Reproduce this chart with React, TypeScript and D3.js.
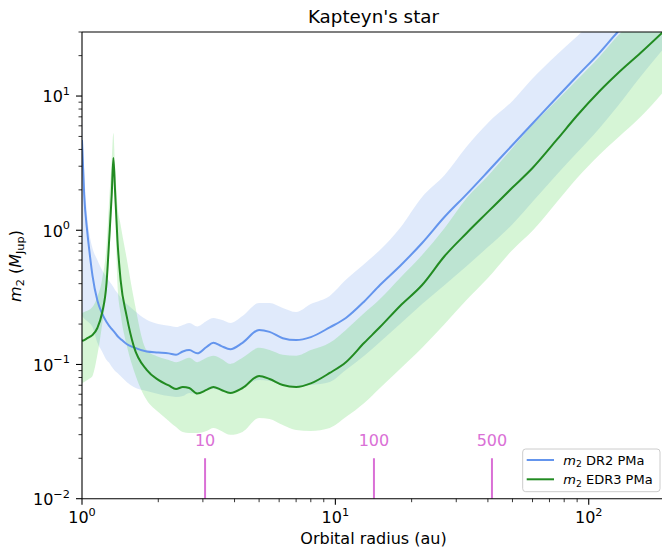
import React from 'react';
import * as d3 from 'd3';

// Orbital radius grid (au) shared by every series
const radius = [
  1.0, 1.02, 1.05, 1.08, 1.1, 1.15, 1.2, 1.25, 1.28, 1.31,
  1.33, 1.35, 1.38, 1.42, 1.5, 1.6, 1.8, 2.0, 2.2, 2.35,
  2.5, 2.65, 2.85, 3.1, 3.3, 3.55, 3.85, 4.3, 5.0, 5.5,
  6.2, 7.0, 8.0, 9.5, 11, 13, 15, 18, 22, 27,
  33, 40, 50, 60, 75, 90, 110, 130, 160, 200,
];

// m2 from the DR2 proper motion anomaly (M_Jup)
const dr2Mass = [
  4.7, 1.83, 0.96, 0.6, 0.46, 0.3, 0.24, 0.207, 0.194, 0.184,
  0.178, 0.172, 0.163, 0.155, 0.142, 0.134, 0.125, 0.123, 0.121, 0.118,
  0.125, 0.128, 0.121, 0.135, 0.145, 0.137, 0.13, 0.145, 0.181, 0.175,
  0.157, 0.152, 0.16, 0.189, 0.222, 0.295, 0.391, 0.542, 0.804, 1.26,
  1.86, 2.74, 4.32, 6.24, 9.8, 14.1, 20.9, 30, 45, 70,
];
const dr2Low = [
  0.23, 0.22, 0.21, 0.2, 0.19, 0.145, 0.125, 0.108, 0.103, 0.096,
  0.0925, 0.0895, 0.0865, 0.0821, 0.0741, 0.068, 0.0635, 0.0603, 0.0582, 0.0573,
  0.0582, 0.0614, 0.0603, 0.0646, 0.0657, 0.0635, 0.0624, 0.068, 0.0767, 0.0754,
  0.0703, 0.068, 0.0703, 0.0741, 0.091, 0.116, 0.147, 0.2, 0.282, 0.391,
  0.542, 0.75, 1.11, 1.63, 2.61, 3.79, 5.73, 8.39, 13.9, 23.2,
];
const dr2High = [
  7.2, 2.8, 1.24, 0.85, 0.735, 0.6, 0.506, 0.449, 0.419, 0.394,
  0.378, 0.359, 0.341, 0.316, 0.282, 0.255, 0.215, 0.2, 0.194, 0.19,
  0.197, 0.204, 0.192, 0.211, 0.222, 0.215, 0.204, 0.23, 0.287, 0.287,
  0.264, 0.246, 0.282, 0.324, 0.427, 0.561, 0.713, 1.04, 1.77, 2.58,
  4.21, 6.31, 9.2, 13.5, 20.4, 27.9, 40, 55, 80, 120,
];

// m2 from the EDR3 proper motion anomaly (M_Jup)
const edr3Mass = [
  0.15, 0.152, 0.157, 0.162, 0.166, 0.187, 0.242, 0.405, 0.847, 1.83,
  3.46, 2.0, 0.847, 0.427, 0.23, 0.137, 0.091, 0.0767, 0.0698, 0.0657,
  0.068, 0.0668, 0.0608, 0.0646, 0.068, 0.0646, 0.0614, 0.0668, 0.0821, 0.078,
  0.0703, 0.068, 0.0723, 0.0865, 0.104, 0.145, 0.19, 0.273, 0.391, 0.643,
  0.955, 1.37, 2.08, 2.91, 4.75, 7.16, 10.8, 14.7, 20.9, 31,
];
const edr3Low = [
  0.0728, 0.0741, 0.0767, 0.0793, 0.0821, 0.118, 0.197, 0.359, 0.655, 1.42,
  2.81, 1.54, 0.4, 0.24, 0.14, 0.091, 0.0544, 0.0443, 0.038, 0.0342,
  0.0314, 0.0309, 0.0309, 0.032, 0.0337, 0.032, 0.0299, 0.0314, 0.0399, 0.0393,
  0.0354, 0.0325, 0.032, 0.0337, 0.0406, 0.0517, 0.0668, 0.0925, 0.133, 0.2,
  0.303, 0.441, 0.713, 0.99, 1.63, 2.45, 3.64, 4.87, 6.98, 11.1,
];
const edr3High = [
  0.242, 0.246, 0.251, 0.259, 0.268, 0.318, 0.427, 0.777, 1.68, 3.34,
  5.31, 3.07, 1.54, 1.1, 0.622, 0.313, 0.128, 0.114, 0.108, 0.104,
  0.108, 0.112, 0.104, 0.112, 0.116, 0.11, 0.101, 0.112, 0.133, 0.128,
  0.118, 0.116, 0.128, 0.145, 0.181, 0.242, 0.308, 0.441, 0.655, 1.04,
  1.74, 2.54, 4.1, 6.1, 9.3, 13.2, 19.5, 28, 40, 60,
];

// orbital period markers (years) and their radius (au)
const periodLabels = ['10', '100', '500'];
const periodRadius = [3.06, 14.2, 41.5];
const periodMarkTop = 0.02;

const xDomain = [1, 200];
const yDomain = [0.01, 30];

const W = 662;
const H = 551;
const plot = { left: 82, right: 665, top: 32, bottom: 498.7 };

const FONT = 'DejaVu Sans, sans-serif';
const BLUE = '#6495ED';
const GREEN = '#228B22';
const LIGHTGREEN = '#32CD32';
const ORCHID = '#DA70D6';

const supText = (v: number) => {
  const e = Math.round(Math.log10(v));
  return e < 0 ? `\u2212${-e}` : `${e}`;
};

export default function App() {
  const x = d3.scaleLog().domain(xDomain).range([plot.left, plot.right]);
  const y = d3.scaleLog().domain(yDomain).range([plot.bottom, plot.top]);

  const idx = radius.map((_, i) => i);
  const linePath = (vals: number[]) =>
    d3
      .line<number>()
      .x((i) => x(radius[i]))
      .y((i) => y(vals[i]))
      .curve(d3.curveMonotoneX)(idx) || '';
  const bandPath = (lo: number[], hi: number[]) =>
    d3
      .area<number>()
      .x((i) => x(radius[i]))
      .y0((i) => y(lo[i]))
      .y1((i) => y(hi[i]))
      .curve(d3.curveMonotoneX)(idx) || '';

  const isMajor = (v: number) => Math.abs(Math.log10(v) - Math.round(Math.log10(v))) < 1e-9;
  const xTicks = x.ticks();
  const yTicks = y.ticks();

  return (
    <div style={{ position: 'absolute', left: 0, top: 0 }}>
      <svg width={W} height={H} style={{ display: 'block', background: '#fff' }} fontFamily={FONT}>
        <defs>
          <clipPath id="plot-clip">
            <rect x={plot.left} y={plot.top} width={plot.right - plot.left} height={plot.bottom - plot.top} />
          </clipPath>
        </defs>

        <g clipPath="url(#plot-clip)">
          <path d={bandPath(dr2Low, dr2High)} fill={BLUE} fillOpacity={0.2} />
          <path d={bandPath(edr3Low, edr3High)} fill={LIGHTGREEN} fillOpacity={0.2} />
          <path d={linePath(dr2Mass)} fill="none" stroke={BLUE} strokeWidth={2} />
          <path d={linePath(edr3Mass)} fill="none" stroke={GREEN} strokeWidth={2} />

          {periodRadius.map((r, i) => (
            <line
              key={`pm-${i}`}
              x1={x(r)}
              x2={x(r)}
              y1={y(periodMarkTop)}
              y2={y(yDomain[0])}
              stroke={ORCHID}
              strokeWidth={2}
            />
          ))}
        </g>

        {periodRadius.map((r, i) => (
          <text
            key={`pl-${i}`}
            x={x(r)}
            y={y(periodMarkTop) - 11.8}
            textAnchor="middle"
            fontSize={16}
            fill={ORCHID}
          >
            {periodLabels[i]}
          </text>
        ))}

        {/* spines */}
        <g stroke="#000" strokeWidth={1.1} fill="none">
          <line x1={plot.left} x2={plot.left} y1={plot.top} y2={plot.bottom} />
          <line x1={plot.left} x2={plot.right} y1={plot.bottom} y2={plot.bottom} />
          <line x1={plot.left} x2={plot.right} y1={plot.top} y2={plot.top} />
          <line x1={plot.right} x2={plot.right} y1={plot.top} y2={plot.bottom} />
        </g>

        {/* x ticks */}
        {xTicks.map((t, i) => (
          <line
            key={`xt-${i}`}
            x1={x(t)}
            x2={x(t)}
            y1={plot.bottom}
            y2={plot.bottom + (isMajor(t) ? 6 : 3.5)}
            stroke="#000"
            strokeWidth={isMajor(t) ? 1.1 : 0.8}
          />
        ))}
        {xTicks.filter(isMajor).map((t, i) => (
          <text key={`xl-${i}`} x={x(t)} y={plot.bottom + 24.6} textAnchor="middle" fontSize={16} fill="#000">
            10
            <tspan fontSize={11.3} dy={-7.3}>
              {supText(t)}
            </tspan>
          </text>
        ))}

        {/* y ticks */}
        {yTicks.map((t, i) => (
          <line
            key={`yt-${i}`}
            x1={plot.left}
            x2={plot.left - (isMajor(t) ? 6 : 3.5)}
            y1={y(t)}
            y2={y(t)}
            stroke="#000"
            strokeWidth={isMajor(t) ? 1.1 : 0.8}
          />
        ))}
        {yTicks.filter(isMajor).map((t, i) => (
          <text key={`yl-${i}`} x={plot.left - 12} y={y(t) + 6.3} textAnchor="end" fontSize={16} fill="#000">
            10
            <tspan fontSize={11.3} dy={-7.3}>
              {supText(t)}
            </tspan>
          </text>
        ))}

        {/* title and axis labels */}
        <text x={(plot.left + plot.right) / 2} y={23.3} textAnchor="middle" fontSize={18.3} fill="#000">
          Kapteyn's star
        </text>
        <text x={(plot.left + plot.right) / 2} y={543.5} textAnchor="middle" fontSize={16} fill="#000">
          Orbital radius (au)
        </text>
        <text transform="translate(20.5,266) rotate(-90)" textAnchor="middle" fontSize={16} fill="#000">
          <tspan fontStyle="italic">m</tspan>
          <tspan fontSize={11.3} dy={3.5}>2</tspan>
          <tspan dy={-3.5}> (</tspan>
          <tspan fontStyle="italic">M</tspan>
          <tspan fontSize={11.3} dy={3.5}>Jup</tspan>
          <tspan dy={-3.5}>)</tspan>
        </text>

        {/* legend */}
        <g>
          <rect x={522.7} y={449} width={137.3} height={42.7} rx={3} fill="#fff" fillOpacity={0.8} stroke="#cccccc" strokeWidth={1} />
          <line x1={526.7} x2={554} y1={460} y2={460} stroke={BLUE} strokeWidth={2} />
          <line x1={526.7} x2={554} y1={479.3} y2={479.3} stroke={GREEN} strokeWidth={2} />
          <text x={563.3} y={464.6} fontSize={13} fill="#000">
            <tspan fontStyle="italic">m</tspan>
            <tspan fontSize={9.2} dy={2.8}>2</tspan>
            <tspan dy={-2.8}> DR2 PMa</tspan>
          </text>
          <text x={563.3} y={483.9} fontSize={13} fill="#000">
            <tspan fontStyle="italic">m</tspan>
            <tspan fontSize={9.2} dy={2.8}>2</tspan>
            <tspan dy={-2.8}> EDR3 PMa</tspan>
          </text>
        </g>
      </svg>
    </div>
  );
}
